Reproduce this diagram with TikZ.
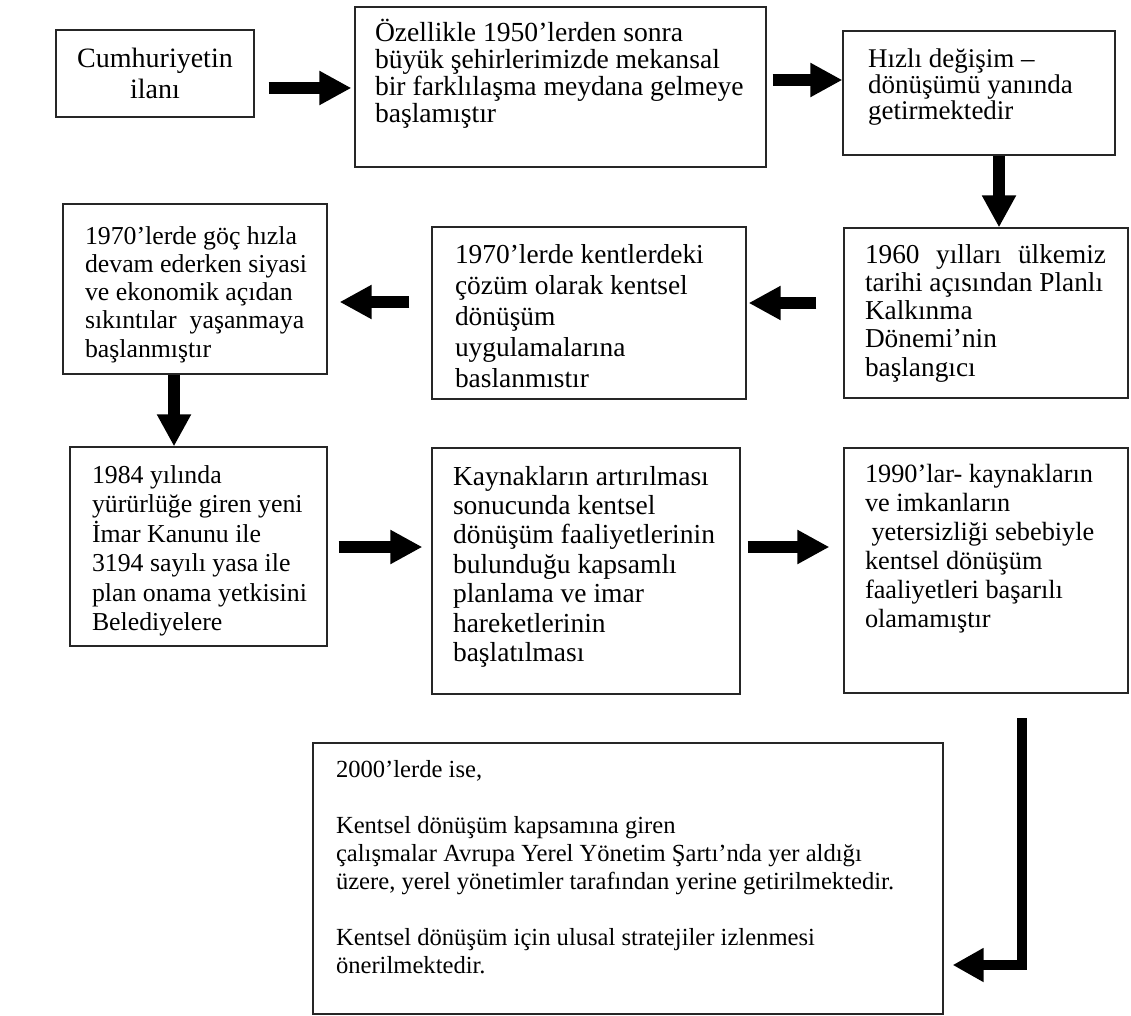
\documentclass[tikz,border=0pt]{standalone}
\usepackage{fontspec}
\setmainfont{Liberation Serif}
\usetikzlibrary{arrows.meta}
\newcommand\rl[1]{\hbox{#1}}
\newcommand\cl[2]{\hbox to #1{\hfil #2\hfil}}
\newcommand\jl[2]{\hbox to #1{#2}}
\begin{document}
\begin{tikzpicture}[x=1pt,y=-1pt,
  box/.style={draw=black!85, line width=1.2pt, inner sep=0pt},
  txt/.style={anchor=base west, inner sep=0pt, outer sep=0pt, text=black},
  arr/.style={line width=12pt, -{Triangle[length=32pt,width=32pt]}},
  elb/.style={line width=10pt, -{Triangle[length=31pt,width=32pt]}},
]
\fill[white] (0,0) rectangle (1131,1016);
\useasboundingbox (0,0) rectangle (1131,1016);

% boxes
\node[box, minimum width=198pt, minimum height=87pt]  (b1)  at (155,73.5) {};
\node[box, minimum width=411pt, minimum height=160pt] (b2)  at (560.5,87) {};
\node[box, minimum width=272pt, minimum height=124pt] (b3)  at (979,93) {};
\node[box, minimum width=284pt, minimum height=170pt] (b4)  at (986,313) {};
\node[box, minimum width=314pt, minimum height=172pt] (b5)  at (589,313) {};
\node[box, minimum width=264pt, minimum height=170pt] (b6)  at (195,289) {};
\node[box, minimum width=257pt, minimum height=199pt] (b7)  at (198.5,546.5) {};
\node[box, minimum width=308pt, minimum height=246pt] (b8)  at (586,571) {};
\node[box, minimum width=284pt, minimum height=245pt] (b9)  at (986,570.5) {};
\node[box, minimum width=630pt, minimum height=271pt] (b10) at (628,878.5) {};

% texts
\node[txt, font=\fontsize{28}{31}\selectfont] (t1) at (56,68)
  {\vtop{\cl{198pt}{Cumhuriyetin}\cl{198pt}{ilanı}}};
\node[txt, font=\fontsize{27.6}{27}\selectfont] (t2) at (375,42)
  {\vtop{\rl{Özellikle 1950’lerden sonra}\rl{büyük şehirlerimizde mekansal}\rl{bir farklılaşma meydana gelmeye}\rl{başlamıştır}}};
\node[txt, font=\fontsize{27}{26}\selectfont] (t3) at (868,68)
  {\vtop{\rl{Hızlı değişim –}\rl{dönüşümü yanında}\rl{getirmektedir}}};
\node[txt, font=\fontsize{27.3}{28.3}\selectfont] (t4) at (865,263)
  {\vtop{\jl{241pt}{1960\hfill yılları\hfill ülkemiz}\rl{tarihi açısından Planlı}\rl{Kalkınma}\rl{Dönemi’nin}\rl{başlangıcı}}};
\node[txt, font=\fontsize{27.4}{31}\selectfont] (t5) at (455,263)
  {\vtop{\rl{1970’lerde kentlerdeki}\rl{çözüm olarak kentsel}\rl{dönüşüm}\rl{uygulamalarına}\rl{baslanmıstır}}};
\node[txt, font=\fontsize{25.8}{28.3}\selectfont] (t6) at (85,244)
  {\vtop{\rl{1970’lerde göç hızla}\rl{devam ederken siyasi}\rl{ve ekonomik açıdan}\rl{sıkıntılar\ \ yaşanmaya}\rl{başlanmıştır}}};
\node[txt, font=\fontsize{25.8}{29.5}\selectfont] (t7) at (92,483)
  {\vtop{\rl{1984 yılında}\rl{yürürlüğe giren yeni}\rl{İmar Kanunu ile}\rl{3194 sayılı yasa ile}\rl{plan onama yetkisini}\rl{Belediyelere}}};
\node[txt, font=\fontsize{27.5}{29.4}\selectfont] (t8) at (453,485)
  {\vtop{\rl{Kaynakların artırılması}\rl{sonucunda kentsel}\rl{dönüşüm faaliyetlerinin}\rl{bulunduğu kapsamlı}\rl{planlama ve imar}\rl{hareketlerinin}\rl{başlatılması}}};
\node[txt, font=\fontsize{26.3}{29}\selectfont] (t9) at (865,482)
  {\vtop{\rl{1990’lar- kaynakların}\rl{ve imkanların}\rl{\ yetersizliği sebebiyle}\rl{kentsel dönüşüm}\rl{faaliyetleri başarılı}\rl{olamamıştır}}};
\node[txt, font=\fontsize{24.6}{28}\selectfont] (t10) at (336,777)
  {\vtop{\rl{2000’lerde ise,}\rl{}\rl{Kentsel dönüşüm kapsamına giren}\rl{çalışmalar Avrupa Yerel Yönetim Şartı’nda yer aldığı}\rl{üzere, yerel yönetimler tarafından yerine getirilmektedir.}\rl{}\rl{Kentsel dönüşüm için ulusal stratejiler izlenmesi}\rl{önerilmektedir.}}};

% connectors
\draw[arr, shorten >=3pt] (b1.east |- 0,88) ++(14,0) -- (b2.west |- 0,88);
\draw[arr] (b2.east |- 0,80) ++(6,0) -- (b3.west |- 0,80);
\draw[arr] (b3.south -| 999,0) -- (b4.north -| 999,0);
\draw[arr, shorten >=2pt] (b4.west |- 0,303) ++(-27,0) -- (b5.east |- 0,303);
\draw[arr, shorten >=12pt] (b5.west |- 0,302) ++(-22,0) -- (b6.east |- 0,302);
\draw[arr] (b6.south -| 174,0) -- (b7.north -| 174,0);
\draw[arr, shorten >=9pt] (b7.east |- 0,547) ++(11,0) -- (b8.west |- 0,547);
\draw[arr, shorten >=14pt] (b8.east |- 0,547) ++(7,0) -- (b9.west |- 0,547);
\coordinate (e0) at (1022,718);
\draw[elb, shorten >=9pt] (e0) |- (b10.east |- 0,965);
\end{tikzpicture}
\end{document}
